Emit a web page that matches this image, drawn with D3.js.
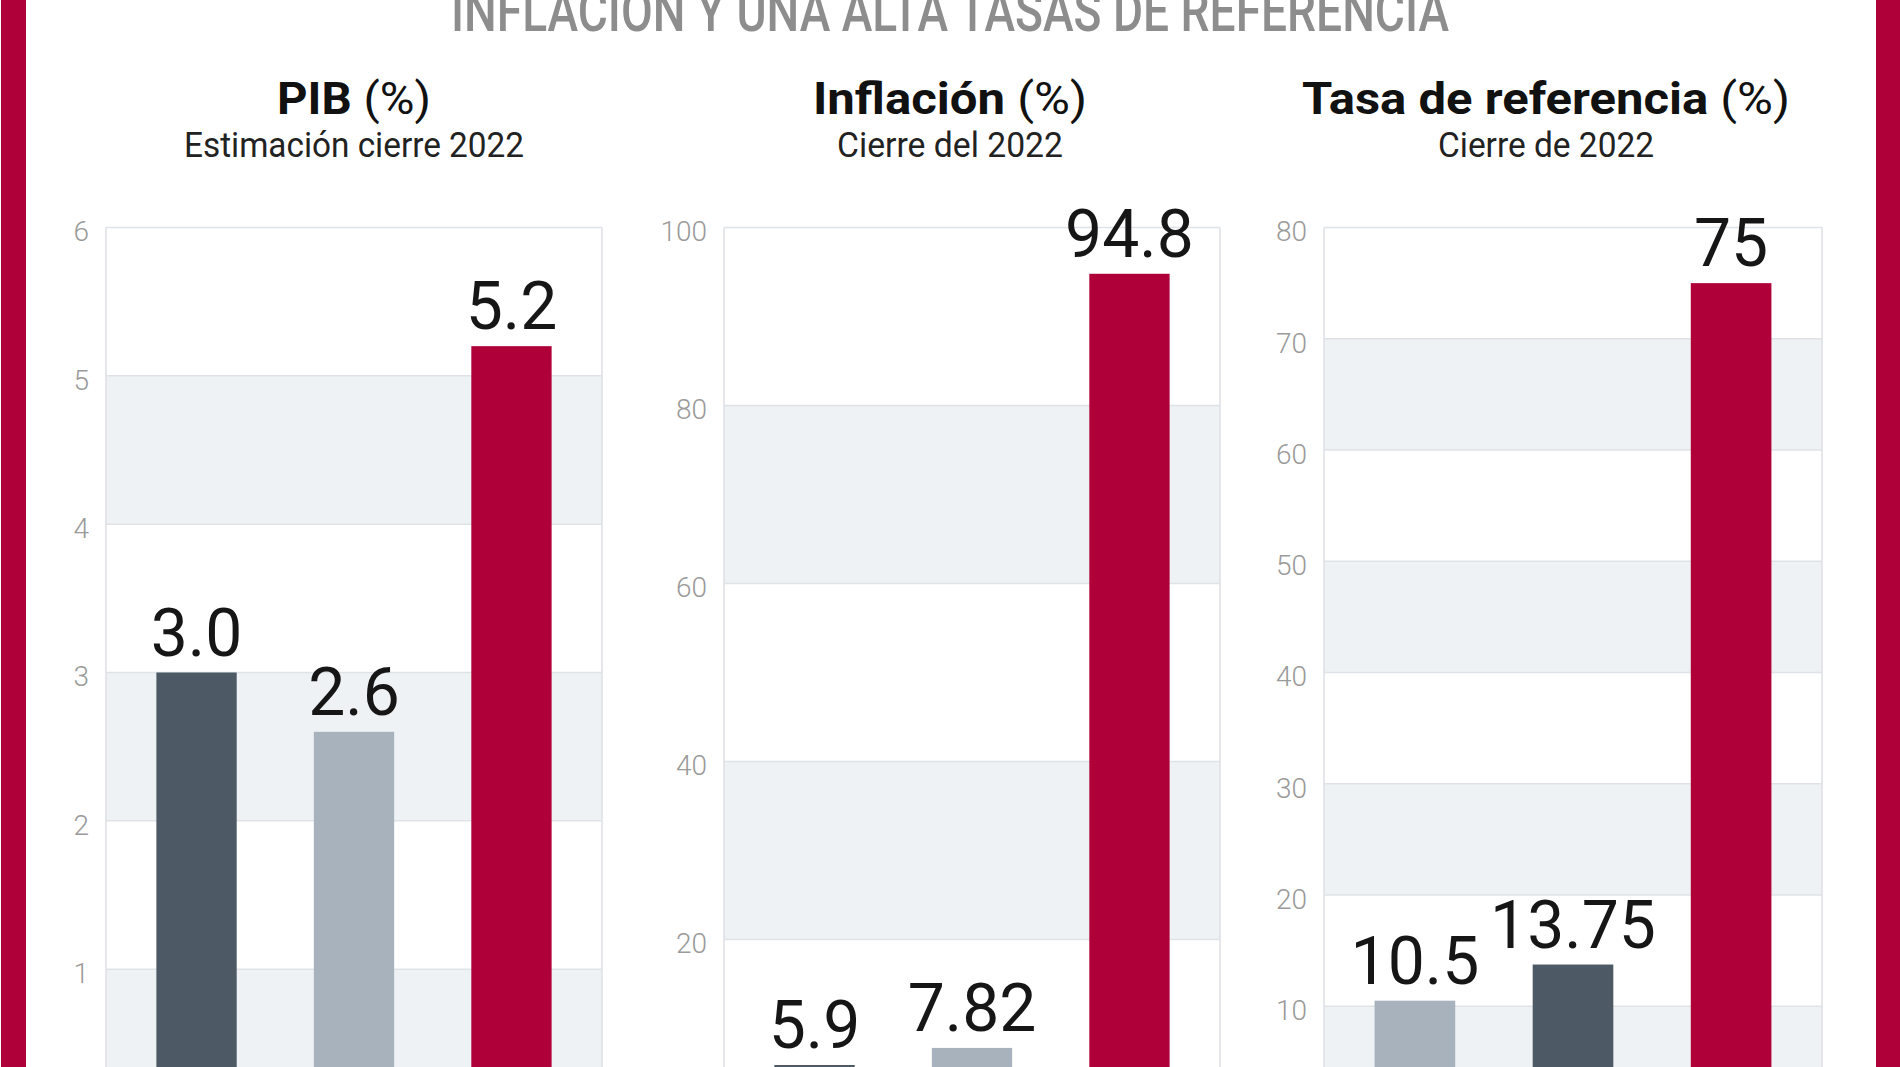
<!DOCTYPE html>
<html>
<head>
<meta charset="utf-8">
<script src="https://cdn.jsdelivr.net/npm/d3@7"></script>
<style>
  html, body { margin: 0; padding: 0; background: #ffffff; }
  svg { display: block; }
  text { font-family: Roboto, "Noto Sans", sans-serif; }
</style>
</head>
<body>
<svg id="chart" width="1900" height="1067"></svg>
<script>
// ---------- DATA ----------
const headline = "INFLACIÓN Y UNA ALTA TASAS DE REFERENCIA";

const panelTitles    = ["PIB", "Inflación", "Tasa de referencia"];
const panelUnits     = ["(%)", "(%)", "(%)"];
const panelSubtitles = ["Estimación cierre 2022", "Cierre del 2022", "Cierre de 2022"];

const pibCategories  = ["Brasil", "México", "Argentina"];
const pibValues      = [3.0, 2.6, 5.2];
const pibLabels      = ["3.0", "2.6", "5.2"];
const pibTicks       = [0, 1, 2, 3, 4, 5, 6];

const inflCategories = ["Brasil", "México", "Argentina"];
const inflValues     = [5.9, 7.82, 94.8];
const inflLabels     = ["5.9", "7.82", "94.8"];
const inflTicks      = [0, 20, 40, 60, 80, 100];

const tasaCategories = ["México", "Brasil", "Argentina"];
const tasaValues     = [10.5, 13.75, 75];
const tasaLabels     = ["10.5", "13.75", "75"];
const tasaTicks      = [0, 10, 20, 30, 40, 50, 60, 70, 80];

const countryColors  = { "Brasil": "#4d5964", "México": "#a8b2bd", "Argentina": "#b0003a" };

// ---------- LAYOUT ----------
const W = 1900, H = 1067;
const svg = d3.select("#chart");
const frameRed = "#b0003a";
const bandFill = "#eef2f5";
const gridColor = "#dfe3e7";

const panels = [
  { title: panelTitles[0], unit: panelUnits[0], sub: panelSubtitles[0], cats: pibCategories,  vals: pibValues,  labels: pibLabels,  ticks: pibTicks,  x0: 106,  x1: 602,  tx: 354,  tw: 154, sw: 340 },
  { title: panelTitles[1], unit: panelUnits[1], sub: panelSubtitles[1], cats: inflCategories, vals: inflValues, labels: inflLabels, ticks: inflTicks, x0: 724,  x1: 1220, tx: 950,  tw: 274, sw: 226 },
  { title: panelTitles[2], unit: panelUnits[2], sub: panelSubtitles[2], cats: tasaCategories, vals: tasaValues, labels: tasaLabels, ticks: tasaTicks, x0: 1324, x1: 1822, tx: 1546, tw: 488, sw: 216 }
];
const yTop = 227.5, yBottom = 1117.5;

// background
svg.append("rect").attr("x", 0).attr("y", 0).attr("width", W).attr("height", H).attr("fill", "#ffffff");

// red side frame
svg.append("rect").attr("x", 1).attr("y", 0).attr("width", 25).attr("height", H).attr("fill", frameRed);
svg.append("rect").attr("x", 1876).attr("y", 0).attr("width", 24).attr("height", H).attr("fill", frameRed);

// headline (cut at top, as in the original)
svg.append("text")
  .attr("x", 451).attr("y", 31)
  .attr("textLength", 998).attr("lengthAdjust", "spacingAndGlyphs")
  .attr("font-size", 58).attr("font-weight", 500)
  .attr("fill", "#8d8d8d")
  .text(headline);

panels.forEach(p => {
  const g = svg.append("g");
  const maxT = d3.max(p.ticks);
  const y = d3.scaleLinear().domain([0, maxT]).range([yBottom, yTop]);
  const x = d3.scaleBand().domain(p.cats).range([p.x0, p.x1]).paddingInner(0.49).paddingOuter(0.32);

  // title
  const t = g.append("text")
    .attr("x", p.tx).attr("y", 114)
    .attr("text-anchor", "middle")
    .attr("font-size", 45).attr("fill", "#111")
    .attr("textLength", p.tw).attr("lengthAdjust", "spacingAndGlyphs");
  t.append("tspan").attr("font-weight", 700).text(p.title + " ");
  t.append("tspan").attr("font-weight", 400).text(p.unit);

  // subtitle
  g.append("text")
    .attr("x", p.tx).attr("y", 157)
    .attr("text-anchor", "middle")
    .attr("font-size", 35).attr("fill", "#222")
    .attr("textLength", p.sw).attr("lengthAdjust", "spacingAndGlyphs")
    .text(p.sub);

  // alternating bands
  const desc = p.ticks.slice().sort((a, b) => b - a);
  for (let i = 0; i < desc.length - 1; i++) {
    if (i % 2 === 1) {
      g.append("rect")
        .attr("x", p.x0).attr("width", p.x1 - p.x0)
        .attr("y", y(desc[i])).attr("height", y(desc[i + 1]) - y(desc[i]))
        .attr("fill", bandFill);
    }
  }

  // gridlines
  g.selectAll("line.grid").data(p.ticks.filter(d => d > 0)).enter().append("line")
    .attr("class", "grid")
    .attr("x1", p.x0).attr("x2", p.x1)
    .attr("y1", d => y(d)).attr("y2", d => y(d))
    .attr("stroke", gridColor).attr("stroke-width", 1.5);

  // vertical frame lines
  [p.x0, p.x1].forEach(xx => {
    g.append("line")
      .attr("x1", xx).attr("x2", xx).attr("y1", yTop).attr("y2", yBottom)
      .attr("stroke", "#dcdfe3").attr("stroke-width", 1.5);
  });

  // y axis
  const axis = d3.axisLeft(y).tickValues(p.ticks.filter(d => d > 0)).tickSize(0).tickPadding(17).tickFormat(d3.format("d"));
  const ag = g.append("g").attr("transform", `translate(${p.x0},0)`).call(axis);
  ag.select(".domain").remove();
  ag.selectAll("text")
    .attr("font-size", 28).attr("font-weight", 300)
    .attr("fill", "#9a9a9a")
    .attr("font-family", "Roboto, sans-serif")
    .attr("dy", "0.48em");

  // bars
  const data = p.cats.map((c, i) => ({ cat: c, val: p.vals[i], label: p.labels[i] }));
  g.selectAll("rect.bar").data(data).enter().append("rect")
    .attr("class", "bar")
    .attr("x", d => x(d.cat)).attr("width", x.bandwidth())
    .attr("y", d => y(d.val)).attr("height", d => yBottom - y(d.val))
    .attr("fill", d => countryColors[d.cat]);

  // value labels
  g.selectAll("text.val").data(data).enter().append("text")
    .attr("class", "val")
    .attr("x", d => x(d.cat) + x.bandwidth() / 2)
    .attr("y", d => y(d.val) - 17)
    .attr("text-anchor", "middle")
    .attr("font-size", 66).attr("font-weight", 400)
    .attr("fill", "#161616")
    .text(d => d.label);
});
</script>
</body>
</html>
